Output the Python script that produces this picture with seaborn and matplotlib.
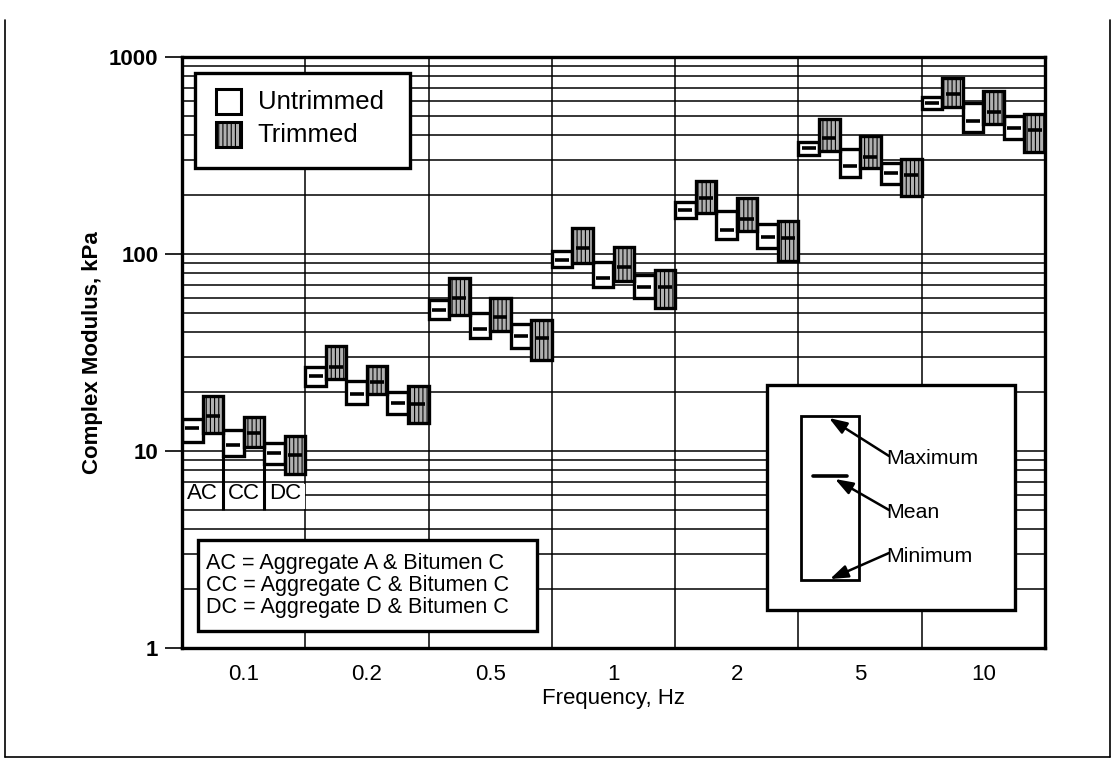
import numpy as np
import pandas as pd
import matplotlib
matplotlib.use("Agg")
import matplotlib.pyplot as plt
import seaborn as sns
from matplotlib.patches import Rectangle
from matplotlib.lines import Line2D
from matplotlib.ticker import LogLocator, NullFormatter, FixedLocator

# ---------------------------------------------------------------- data
frequencies = ["0.1", "0.2", "0.5", "1", "2", "5", "10"]
mixes = ["AC", "CC", "DC"]

# rows: frequency, columns: AC, CC, DC  (complex modulus, kPa)
untrimmed_min = [[11.1, 9.4, 8.6], [21.5, 17.3, 15.5], [46.6, 37.3, 33.2],
                 [86.2, 68.2, 59.6], [152, 119, 107], [318, 247, 226], [543, 418, 382]]
untrimmed_mean = [[13.1, 10.7, 9.8], [24.1, 19.4, 17.6], [52.0, 41.5, 38.4],
                  [93.2, 75.3, 68.2], [167, 133, 122], [344, 280, 259], [582, 473, 435]]
untrimmed_max = [[14.5, 12.8, 11.0], [26.8, 22.7, 20.0], [58.4, 50.4, 44.0],
                 [104, 90.7, 78.2], [184, 165, 142], [372, 341, 291], [624, 582, 502]]

trimmed_min = [[12.4, 10.5, 7.6], [23.1, 19.5, 13.8], [49.0, 40.8, 29.0],
               [89.7, 73.2, 53.0], [161, 131, 92.5], [333, 274, 198], [560, 457, 328]]
trimmed_mean = [[15.0, 12.3, 9.5], [26.6, 22.5, 17.3], [59.6, 47.7, 37.3],
                [107, 86.2, 68.2], [192, 150, 120], [387, 312, 252], [647, 528, 426]]
trimmed_max = [[19.0, 14.8, 11.9], [34.1, 27.0, 21.4], [75.3, 59.6, 46.2],
               [135, 109, 82.9], [235, 193, 147], [483, 397, 303], [785, 672, 514]]

conditions = ["Untrimmed", "Trimmed"]
mix_key = ["AC = Aggregate A & Bitumen C",
           "CC = Aggregate C & Bitumen C",
           "DC = Aggregate D & Bitumen C"]

# ---------------------------------------------------------------- table
rows = []
stats = {"Untrimmed": (untrimmed_min, untrimmed_mean, untrimmed_max),
         "Trimmed": (trimmed_min, trimmed_mean, trimmed_max)}
for i, f in enumerate(frequencies):
    for j, m in enumerate(mixes):
        for k, c in enumerate(conditions):
            lo, mu, hi = (s[i][j] for s in stats[c])
            slot = 2 * j + k
            rows.append(dict(freq=f, mix=m, cond=c, lo=lo, mean=mu, hi=hi,
                             x=i - 0.5 + (slot + 0.5) / 6))
df = pd.DataFrame(rows)
box_w = 1 / 6
trim_face = "#b0b0b0"

# ---------------------------------------------------------------- style
sns.set_theme(style="white")
plt.rcParams["font.family"] = ["Liberation Sans", "DejaVu Sans"]
plt.rcParams["hatch.linewidth"] = 0.8
plt.rcParams["hatch.color"] = "#333333"
for key in ["text.color", "axes.labelcolor", "xtick.color", "ytick.color"]:
    plt.rcParams[key] = "black"

W, H = 1115, 763
fig = plt.figure(figsize=(W / 100, H / 100), dpi=100)
fig.patch.set_facecolor("white")


def fx(x):
    return x / W


def fy(y):
    return 1 - y / H


ax = fig.add_axes([fx(182), fy(648), (1045 - 182) / W, (648 - 57) / H])
ax.set_facecolor("white")
ax.set_yscale("log")
ax.set_ylim(1, 1000)
ax.set_xlim(-0.5, len(frequencies) - 0.5)
ax.set_axisbelow(True)

# grid: every log step horizontally, group boundaries vertically
ax.yaxis.set_major_locator(FixedLocator([1, 10, 100, 1000]))
ax.yaxis.set_minor_locator(LogLocator(base=10, subs=np.arange(2, 10)))
ax.yaxis.set_minor_formatter(NullFormatter())
ax.set_yticklabels(["1", "10", "100", "1000"], fontsize=16, fontweight="bold")
ax.set_xticks(range(len(frequencies)))
ax.set_xticklabels(frequencies, fontsize=16)
ax.set_xticks(np.arange(-0.5, len(frequencies)), minor=True)
ax.grid(which="both", axis="y", color="black", lw=1.1)
ax.grid(which="minor", axis="x", color="black", lw=1.1)
ax.tick_params(axis="y", which="major", direction="out", length=12, width=1.2,
               color="black", pad=5, left=True)
ax.tick_params(axis="y", which="minor", length=0)
ax.tick_params(axis="x", which="both", length=0, pad=11.5)
for s in ax.spines.values():
    s.set_color("black")
    s.set_linewidth(2.4)

# floating min-max boxes
for c, face, hatch in [("Untrimmed", "white", None), ("Trimmed", trim_face, "||||")]:
    sub = df[df.cond == c]
    ax.bar(sub.x, sub.hi - sub.lo, bottom=sub.lo, width=box_w, color=face,
           edgecolor="black", linewidth=2.4, hatch=hatch, zorder=2)

# mean marks
sns.scatterplot(data=df, x="x", y="mean", marker="_", s=90, color="black",
                linewidth=2.6, legend=False, ax=ax, zorder=3)
ax.set_xlabel("Frequency, Hz", fontsize=16, labelpad=2)
ax.set_ylabel("Complex Modulus, kPa", fontsize=16, fontweight="bold", labelpad=4)

# mix labels under the first frequency group
first = df[df.freq == frequencies[0]]
ax.add_patch(Rectangle((-0.5, 5.1), 1.0, 6.8 - 5.1, facecolor="white",
                       edgecolor="none", zorder=1))
for j, m in enumerate(mixes):
    ax.text(-0.5 + (2 * j + 1) / 6, 6.05, m, ha="center", va="center",
            fontsize=16, zorder=4)
    if j > 0:
        lo = first[(first.mix == m) & (first.cond == "Untrimmed")].lo.iloc[0]
        ax.vlines(-0.5 + 2 * j / 6, 5.0, lo, color="black", lw=2.2, zorder=3)

# ---------------------------------------------------------------- legend
def frame(x0, y0, x1, y1, lw=2.4, face="white", hatch=None, z=6):
    r = Rectangle((fx(x0), fy(y1)), (x1 - x0) / W, (y1 - y0) / H,
                  transform=fig.transFigure, facecolor=face, edgecolor="black",
                  linewidth=lw, hatch=hatch, zorder=z)
    fig.add_artist(r)


frame(195, 73, 410, 168)
frame(216, 89, 241, 114, lw=2.2, z=7)
frame(216, 122, 241, 147, lw=2.2, face=trim_face, hatch="||||", z=7)
fig.text(fx(258), fy(102), conditions[0], fontsize=18.5, va="center", zorder=8)
fig.text(fx(257), fy(135), conditions[1], fontsize=18.5, va="center", zorder=8)

# ---------------------------------------------------------------- mix key
frame(198, 540, 537, 631)
for n, line in enumerate(mix_key):
    fig.text(fx(206), fy(563 + n * 22.5), line, fontsize=15.6, va="center", zorder=8)

# ---------------------------------------------------------------- box key
frame(767, 385, 1015, 610)
frame(801, 416, 859, 580, lw=2.0, z=7)
fig.add_artist(Line2D([fx(813), fx(847)], [fy(476), fy(476)], color="black",
                      lw=2.6, transform=fig.transFigure, zorder=8))
arrow = dict(arrowstyle="-|>,head_length=0.9,head_width=0.32", lw=1.8,
             color="black", shrinkA=0, shrinkB=0)
for label, ty, tip in [("Maximum", 459, (829, 418)),
                       ("Mean", 513, (835, 479)),
                       ("Minimum", 556, (830, 579))]:
    fig.text(fx(886), fy(ty), label, fontsize=15.3, va="center", zorder=9)
    ann = fig.add_artist(plt.Annotation("", xy=(fx(tip[0]), fy(tip[1])),
                                        xytext=(fx(889), fy(ty - 3)),
                                        xycoords="figure fraction",
                                        textcoords="figure fraction",
                                        arrowprops=arrow))
    ann.set_zorder(9)

# page border
for xs, ys in [([5, 5], [20, 757]), ([5, 1110], [757, 757]), ([1110, 1110], [20, 757])]:
    fig.add_artist(Line2D([fx(v) for v in xs], [fy(v) for v in ys], color="black",
                          lw=1.2, transform=fig.transFigure, zorder=10))

fig.savefig("out.png", dpi=100, facecolor="white")
